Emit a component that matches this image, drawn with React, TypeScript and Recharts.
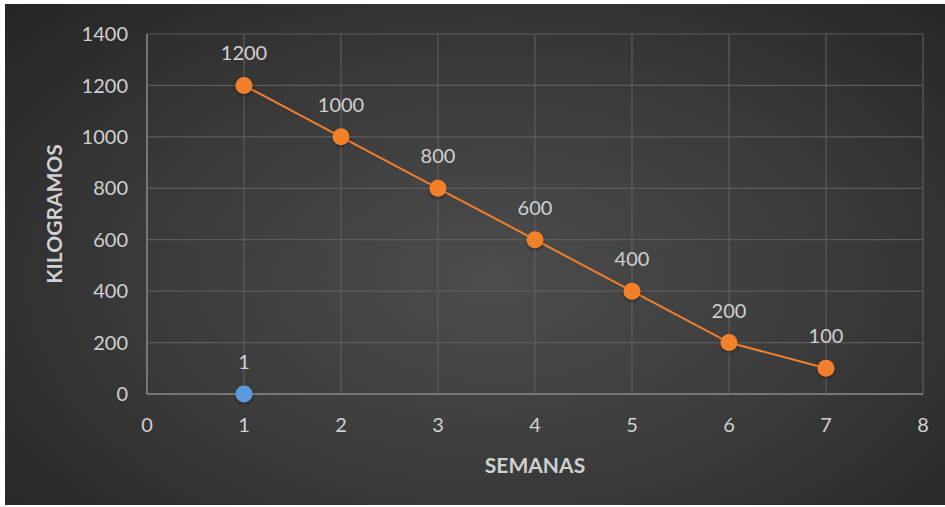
import React from "react";
import {
  LineChart,
  Line,
  XAxis,
  YAxis,
  CartesianGrid,
  LabelList,
} from "recharts";

// weekly weight readings
const weeks = [1, 2, 3, 4, 5, 6, 7];
const kilos = [1200, 1000, 800, 600, 400, 200, 100];

// single starting marker on the baseline
const startWeeks = [1];
const startKilos = [0];

const xTicks = [0, 1, 2, 3, 4, 5, 6, 7, 8];
const yTicks = [0, 200, 400, 600, 800, 1000, 1200, 1400];

const mainData = weeks.map((w, i) => ({ x: w, kg: kilos[i] }));
const startData = startWeeks.map((w, i) => ({ x: w, base: startKilos[i] }));

const FONT = "Lato, 'Open Sans', sans-serif";
const TEXT = "#d0d0d0";
const ORANGE = "#f27f2c";
const BLUE = "#5a9bdc";

export default function App() {
  return (
    <div
      style={{
        position: "absolute",
        left: 0,
        top: 0,
        width: 945,
        height: 507,
        background: "#ffffff",
      }}
    >
      <div
        style={{
          position: "absolute",
          left: 5,
          top: 4,
          width: 940,
          height: 501,
          background:
            "radial-gradient(ellipse 75% 85% at 52% 55%, #4c4c4c 0%, #3c3c3c 45%, #222222 100%)",
        }}
      >
        <LineChart
          width={940}
          height={501}
          margin={{ top: 30, right: 22, bottom: 31, left: 0 }}
          style={{ fontFamily: FONT }}
        >
          <defs>
            <filter id="dotShadow" x="-50%" y="-50%" width="200%" height="200%">
              <feDropShadow dx="0" dy="1.5" stdDeviation="1.5" floodColor="#000" floodOpacity="0.45" />
            </filter>
          </defs>
          <CartesianGrid stroke="#5c5c5c" strokeWidth={1.2} />
          <XAxis
            type="number"
            dataKey="x"
            domain={[0, 8]}
            ticks={xTicks}
            interval={0}
            height={80}
            tickLine={false}
            tickSize={0}
            tickMargin={24}
            axisLine={{ stroke: "#858585", strokeWidth: 1.5 }}
            tick={{ fill: TEXT, fontSize: 20 }}
            label={{
              value: "SEMANAS",
              position: "center",
              dy: 32,
              fill: TEXT,
              fontSize: 21,
              fontWeight: 700,
            }}
          />
          <YAxis
            type="number"
            domain={[0, 1400]}
            ticks={yTicks}
            interval={0}
            width={142}
            tickLine={false}
            tickSize={0}
            tickMargin={19}
            axisLine={{ stroke: "#858585", strokeWidth: 1.5 }}
            tick={{ fill: TEXT, fontSize: 20 }}
            label={{
              value: "KILOGRAMOS",
              angle: -90,
              position: "center",
              dx: -21,
              fill: TEXT,
              fontSize: 21,
              fontWeight: 700,
            }}
          />
          <Line
            data={mainData}
            dataKey="kg"
            stroke={ORANGE}
            strokeWidth={2}
            dot={{ r: 8.5, fill: ORANGE, stroke: "none", filter: "url(#dotShadow)" }}
            activeDot={false}
            isAnimationActive={false}
          >
            <LabelList dataKey="kg" position="top" offset={25} fill={TEXT} fontSize={20} />
          </Line>
          <Line
            data={startData}
            dataKey="base"
            stroke={BLUE}
            strokeWidth={2}
            dot={{ r: 8.5, fill: BLUE, stroke: "none", filter: "url(#dotShadow)" }}
            activeDot={false}
            isAnimationActive={false}
          >
            <LabelList dataKey="x" position="top" offset={25} fill={TEXT} fontSize={20} />
          </Line>
        </LineChart>
      </div>
    </div>
  );
}
